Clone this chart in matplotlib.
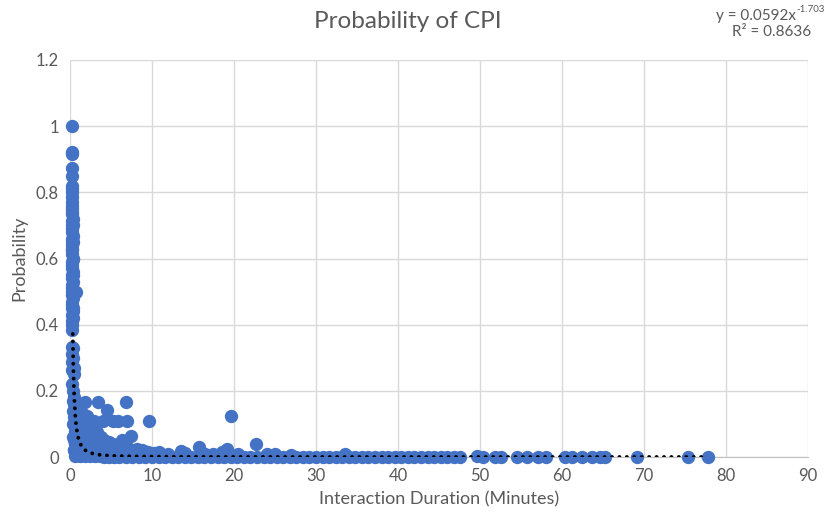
import matplotlib
matplotlib.use("Agg")
import matplotlib.pyplot as plt
import numpy as np

# vertical column of short interactions
col_x = [0.24, 0.22, 0.25, 0.28, 0.22, 0.26, 0.3, 0.24, 0.27, 0.22, 0.3, 0.25, 0.28, 0.23, 0.31, 0.26,
         0.22, 0.29, 0.25, 0.32, 0.23, 0.27, 0.3, 0.24, 0.28, 0.22, 0.33, 0.26, 0.29, 0.23, 0.31, 0.25,
         0.28, 0.34, 0.22, 0.27, 0.3, 0.24, 0.33, 0.26, 0.29, 0.23, 0.31, 0.27, 0.35, 0.25, 0.73, 0.3,
         0.26, 0.22, 0.32, 0.28, 0.4, 0.24, 0.45, 0.3, 0.2, 0.5, 0.35, 0.38, 0.4, 0.42, 0.36, 0.4]
col_y = [1.0, 0.923, 0.917, 0.875, 0.85, 0.818, 0.81, 0.8, 0.786, 0.77, 0.76, 0.75, 0.74, 0.733, 0.72,
         0.714, 0.7, 0.69, 0.68, 0.667, 0.66, 0.65, 0.64, 0.63, 0.625, 0.615, 0.6, 0.59, 0.58, 0.57,
         0.56, 0.55, 0.54, 0.53, 0.52, 0.51, 0.5, 0.49, 0.48, 0.47, 0.46, 0.45, 0.44, 0.43, 0.42,
         0.41, 0.5, 0.4, 0.385, 0.333, 0.33, 0.31, 0.3, 0.286, 0.27, 0.263, 0.222, 0.25, 0.7, 0.6,
         0.55, 0.45, 0.65, 0.2]

# dense cluster near the origin
low_x = [0.5, 0.6, 0.8, 1.0, 1.2, 0.7, 1.1, 1.5, 0.9, 1.3, 1.8, 2.2, 0.6, 1.0, 1.6, 2.0, 2.5, 3.0,
         0.8, 1.2, 1.7, 2.3, 2.8, 0.5, 0.4, 0.4, 0.45, 0.55, 0.65, 0.75, 0.85, 0.95, 1.05, 1.4,
         1.9, 2.1, 2.4, 2.6, 2.7, 3.2, 3.5, 1.6, 1.9, 2.2, 2.9, 3.3, 3.8, 4.2, 4.8, 5.3, 5.9, 6.4,
         6.9, 8.2, 8.8, 9.5, 10.3, 11.0, 12.0, 13.5, 14.0, 16.5, 17.5, 18.5, 20.5, 24.0, 25.0,
         27.0, 33.5, 0.35, 0.5, 0.7, 1.3, 4.5, 5.6, 6.2, 7.8, 9.0, 10.8,
         0.45, 0.55, 0.6, 0.7, 0.8, 0.9, 1.0, 1.1, 1.2, 1.4, 1.5, 1.7, 2.0, 2.3, 2.6, 3.4, 3.9,
         4.4, 5.0, 5.5, 6.0, 6.6, 7.2, 0.4, 0.5, 0.65, 0.85, 1.15, 1.35, 1.6, 1.9, 2.5, 3.1, 3.7,
         0.9, 1.1, 0.6, 0.75, 1.4]
low_y = [0.18, 0.17, 0.16, 0.15, 0.14, 0.12, 0.12, 0.11, 0.1, 0.09, 0.08, 0.07, 0.08, 0.06, 0.05,
         0.04, 0.035, 0.03, 0.03, 0.02, 0.015, 0.01, 0.02, 0.05, 0.1, 0.14, 0.16, 0.13, 0.11, 0.09,
         0.07, 0.05, 0.035, 0.06, 0.1, 0.125, 0.09, 0.06, 0.045, 0.075, 0.06, 0.13, 0.05, 0.03, 0.055,
         0.075, 0.06, 0.05, 0.045, 0.04, 0.035, 0.05, 0.03, 0.025, 0.02, 0.015, 0.012, 0.01, 0.008,
         0.018, 0.012, 0.01, 0.008, 0.015, 0.008, 0.008, 0.01, 0.005, 0.01, 0.06, 0.02, 0.01, 0.01,
         0.03, 0.025, 0.04, 0.02, 0.018, 0.015,
         0.02, 0.04, 0.06, 0.03, 0.05, 0.08, 0.02, 0.04, 0.07, 0.03, 0.05, 0.02, 0.06, 0.03, 0.015,
         0.04, 0.03, 0.02, 0.025, 0.015, 0.02, 0.01, 0.012, 0.17, 0.12, 0.14, 0.13, 0.1, 0.11, 0.08,
         0.09, 0.07, 0.05, 0.035, 0.02, 0.13, 0.16, 0.01, 0.015]

# scattered outliers
out_x = [1.83, 3.45, 6.83, 4.47, 2.9, 4.07, 5.28, 5.9, 6.9, 9.63, 19.6, 7.5, 22.7, 15.7, 19.2]
out_y = [0.167, 0.167, 0.167, 0.142, 0.11, 0.11, 0.11, 0.11, 0.11, 0.11, 0.125, 0.063, 0.04, 0.03, 0.025]

# points along the floor
floor_x = [0.6, 1.2, 1.8, 2.4, 3.0, 3.6, 4.2, 4.8, 5.4, 6.0, 6.8, 7.6, 8.4, 9.2, 10.0, 10.8, 11.6,
           12.4, 13.2, 14.0, 14.8, 15.6, 16.4, 17.2, 18.0, 18.8, 19.6, 20.4, 21.2, 22.0, 22.8, 23.6,
           24.4, 25.2, 26.0, 26.8, 27.6, 28.4, 29.2, 30.0, 30.8, 31.6, 32.4, 33.2, 34.0, 34.8, 35.6,
           36.4, 37.2, 38.0, 38.8, 39.6, 40.4, 41.2, 42.0, 42.8, 43.6, 44.4, 45.2, 46.0, 46.8, 47.6,
           49.6, 50.4, 51.8, 52.6, 54.5, 55.7, 57.1, 58.1, 60.4, 61.2, 62.4, 63.6, 64.6, 65.2, 69.1,
           75.4, 77.8]
floor_y = [0.004, 0.003, 0.003, 0.002, 0.002, 0.002, 0.001, 0.001, 0.001, 0.001, 0.001, 0.001,
           0.001, 0.001, 0.001, 0.001, 0.001, 0.001, 0.001, 0.001, 0.001, 0.001, 0.001, 0.001,
           0.001, 0.001, 0.001, 0.001, 0.001, 0.001, 0.001, 0.001, 0.001, 0.001, 0.001, 0.001,
           0.001, 0.001, 0.001, 0.001, 0.001, 0.001, 0.001, 0.001, 0.001, 0.001, 0.001, 0.001,
           0.001, 0.001, 0.001, 0.001, 0.001, 0.001, 0.001, 0.001, 0.001, 0.001, 0.001, 0.001,
           0.001, 0.001, 0.002, 0.001, 0.001, 0.001, 0.001, 0.001, 0.001, 0.001, 0.001, 0.001,
           0.001, 0.001, 0.001, 0.001, 0.001, 0.001, 0.001]

# power trendline shown on the chart
fit_a = 0.0592
fit_b = -1.703
fit_range = [0.34, 77.8]

xs = col_x + low_x + out_x + floor_x
ys = col_y + low_y + out_y + floor_y

gray = '#595959'
plt.rcParams['font.family'] = ['Lato', 'DejaVu Sans']

fig = plt.figure(figsize=(8.29, 5.19), dpi=100)
ax = fig.add_axes([70/829, 1 - 457/519, 738/829, 397/519])

ax.scatter(xs, ys, s=92, color='#4472C4', zorder=3, linewidths=0, clip_on=False)

tx = np.geomspace(fit_range[0], fit_range[1], 600)
ax.plot(tx, fit_a * tx ** fit_b, color='black', lw=2.8,
        linestyle=(0, (0.01, 1.9)), dash_capstyle='round', zorder=4)

ax.set_xlim(0, 90)
ax.set_ylim(0, 1.2)
ax.set_xticks(range(0, 91, 10))
ax.set_yticks([0, 0.2, 0.4, 0.6, 0.8, 1.0, 1.2])
ax.set_yticklabels(['0', '0.2', '0.4', '0.6', '0.8', '1', '1.2'])
ax.grid(True, color='#D9D9D9', lw=1)
ax.set_axisbelow(True)
for s in ['top', 'right', 'left']:
    ax.spines[s].set_visible(False)
ax.spines['bottom'].set_color('#BFBFBF')
ax.tick_params(length=0, labelsize=12, colors=gray, pad=8)

ax.set_xlabel('Interaction Duration (Minutes)', fontsize=13, color=gray, labelpad=5)
ax.set_ylabel('Probability', fontsize=13, color=gray, labelpad=6)
fig.text(408/829, 1 - 21/519, 'Probability of CPI', ha='center', va='center', fontsize=17.5, color=gray)

# trendline label, exponent drawn as a smaller raised text
eq = fig.text(756/829, 1 - 16/519, 'y = 0.0592x', ha='center', va='center', fontsize=11, color=gray)
fig.canvas.draw()
bb = eq.get_window_extent()
fig.text(bb.x1 / 829 + 0.001, 1 - 10/519, '-1.703', ha='left', va='center', fontsize=7, color=gray)
fig.text(772/829, 1 - 32/519, 'R² = 0.8636', ha='center', va='center', fontsize=11, color=gray)

fig.savefig('out.png', dpi=100)
